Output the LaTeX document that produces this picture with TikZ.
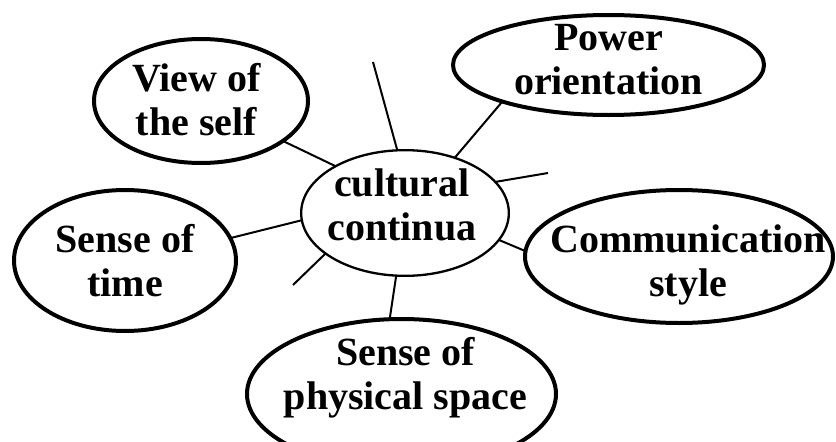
\documentclass[tikz,border=0pt]{standalone}
\usepackage{fontspec}
\setmainfont{Liberation Serif}
\usetikzlibrary{shapes.geometric}

\begin{document}
\begin{tikzpicture}[x=1pt,y=-1pt,line width=2pt,
  topic node/.style={ellipse,draw,line width=4pt,inner sep=0pt,outer sep=0pt},
  core node/.style={ellipse,draw,line width=2.3pt,inner sep=0pt,outer sep=0pt,
    minimum width=207.7pt,minimum height=125.7pt},
  label text/.style={align=center,inner sep=0pt,font=\fontsize{40}{44}\selectfont\bfseries}]
  \useasboundingbox (0,0) rectangle (836,442);

  % ellipses
  \node[core node] (core) at (405,213) {};
  \node[topic node,minimum width=214pt,minimum height=124pt] (self) at (201,101) {};
  \node[topic node,minimum width=311pt,minimum height=100pt] (power) at (608.5,65) {};
  \node[topic node,minimum width=222pt,minimum height=141pt] (time) at (125,260.5) {};
  \node[topic node,minimum width=308pt,minimum height=133pt] (comm) at (679,256.5) {};
  \node[topic node,minimum width=309pt,minimum height=150pt] (space) at (401.5,394) {};

  % texts
  \node[label text] (coretext) at (402,204.5) {cultural\\continua};
  \node[label text] (selftext) at (196.5,100) {View of\\the self};
  \node[label text] (powertext) at (608.5,60) {Power\\orientation};
  \node[label text] (timetext) at (125,260.5) {Sense of\\time};
  \node[label text] (commtext) at (688,265) {Communication\\style};
  \node[label text] (spacetext) at (405.5,377.5) {Sense of\\physical space};

  % free ends of the stubs
  \coordinate (up) at (373,62);
  \coordinate (right) at (548,173);
  \coordinate (lowleft) at (293,285);

  \draw (self.-26) -- (core.146.3);
  \draw (core.97) -- (up);
  \draw (power.199.9) -- (core.48.8);
  \draw (core.19.2) -- (right);
  \draw (time.12.8) -- (core.184.4);
  \draw (core.207) -- (lowleft);
  \draw (core.262.9) -- (space.99.2);
  \draw (core.344.8) -- (comm.178.7);
\end{tikzpicture}
\end{document}
